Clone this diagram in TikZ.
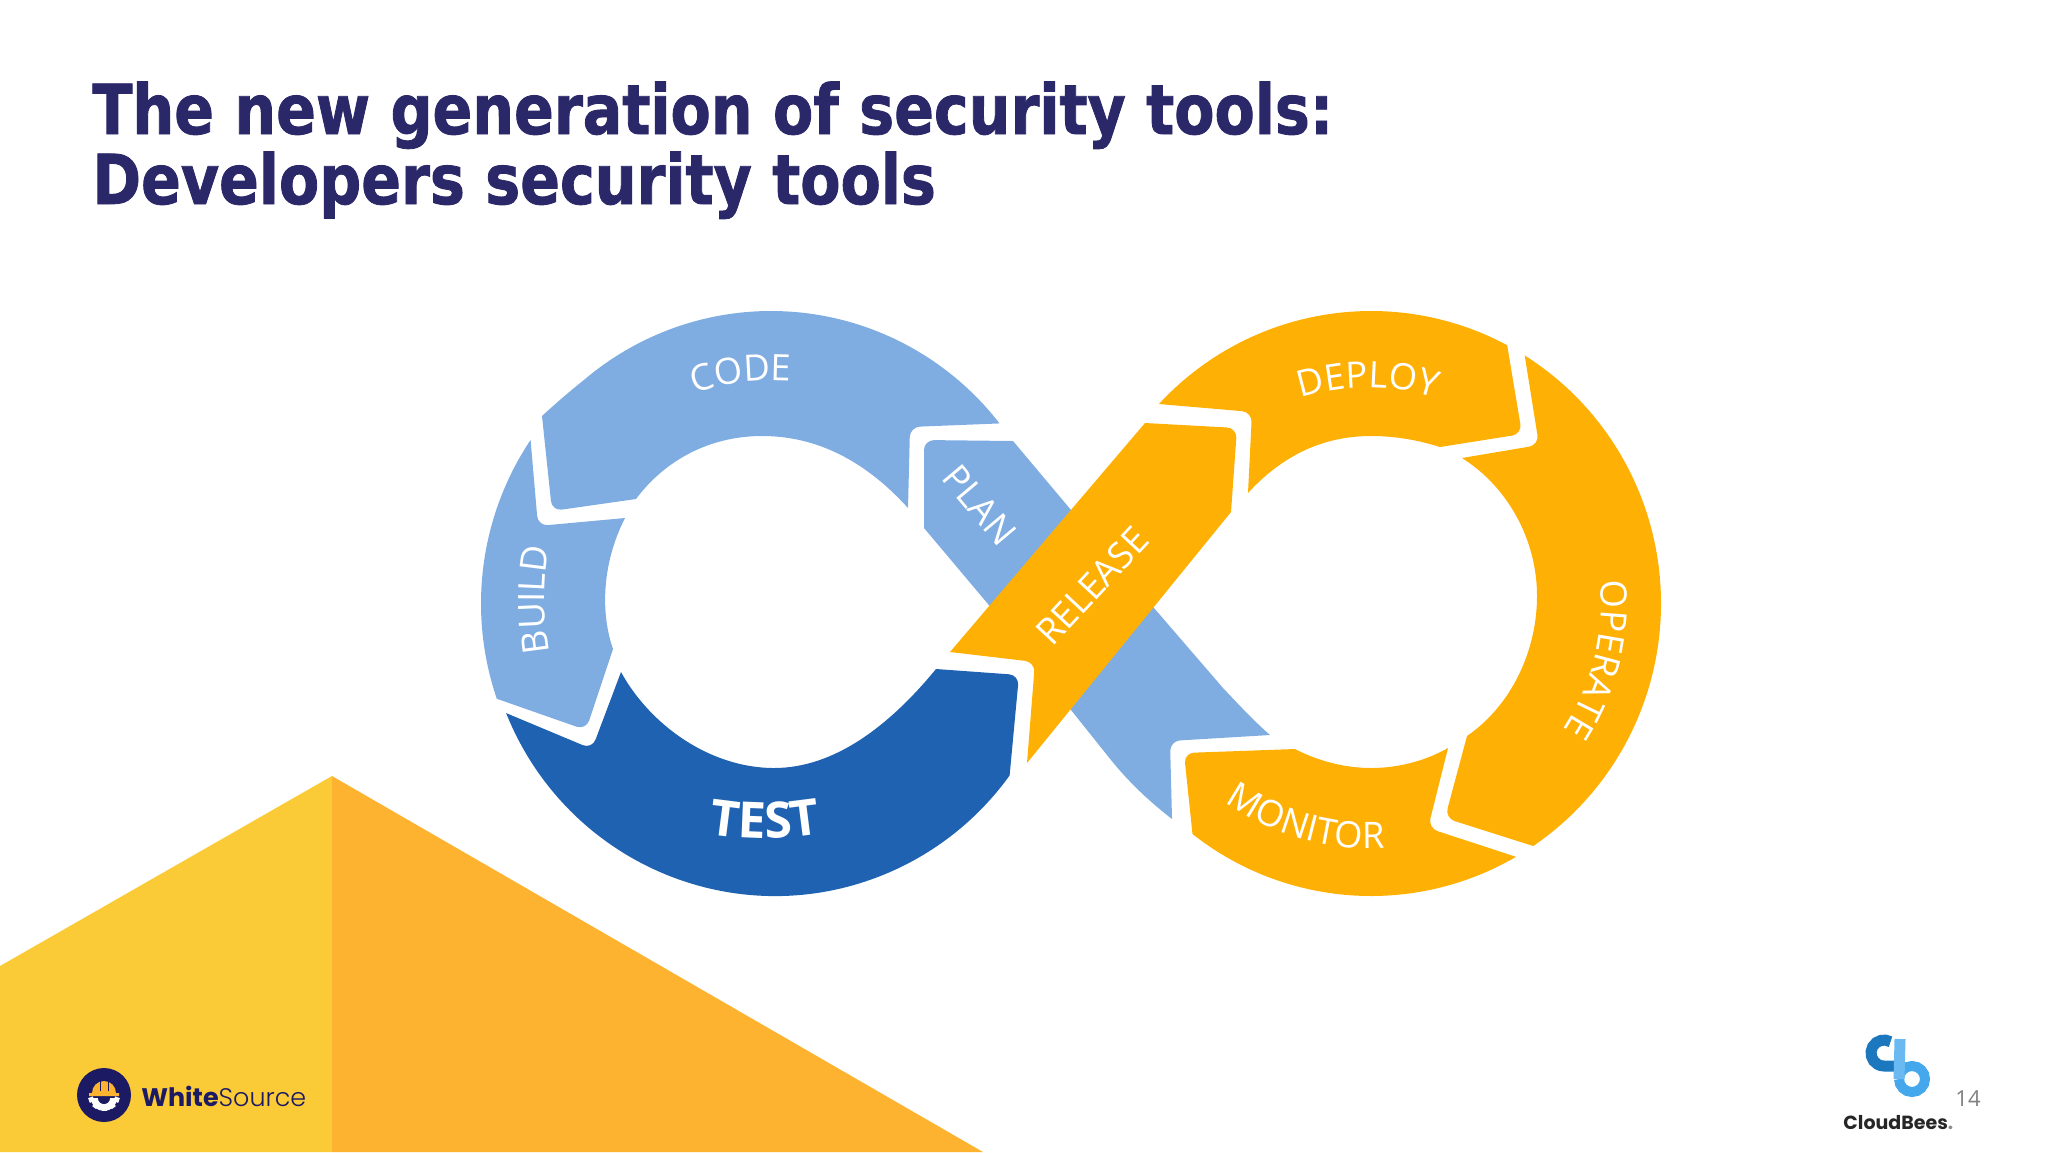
\documentclass[tikz,border=0pt]{standalone}
\usepackage{fontspec}
\usepackage{xcolor}
\usetikzlibrary{decorations.text}
\newfontfamily\titlefont[FakeBold=1.2, FakeStretch=0.945]{DejaVu Sans Condensed Bold}
\newfontfamily\stagefont{Open Sans}
\newfontfamily\logofont{Poppins}
\newfontfamily\logolight{Poppins Light}
\definecolor{titlenavy}{HTML}{2B2869}
\definecolor{paleblue}{HTML}{7FADE1}
\definecolor{deepblue}{HTML}{1F62B2}
\definecolor{amber}{HTML}{FFB005}
\definecolor{wedgeyellow}{HTML}{FBCA37}
\definecolor{wedgeorange}{HTML}{FDB330}
\definecolor{sourcenavy}{HTML}{1B1A63}
\definecolor{beesdark}{HTML}{1B78BE}
\definecolor{beeslight}{HTML}{45A8EC}
\tikzset{
  looptext/.style={decorate, decoration={text along path, text align=center,
    text color=white, text={|\stagefont\fontsize{18.2}{18.2}\selectfont|#1}}},
  stagelabel/.style={text=white, inner sep=0pt, font=\stagefont\fontsize{18.2}{18.2}\selectfont},
  titleline/.style={anchor=base west, inner sep=0pt, text=titlenavy,
    font=\titlefont\fontsize{34.5}{34.5}\selectfont},
  rim/.style={x radius=290, y radius=292.5}
}
\begin{document}
\begin{tikzpicture}[x=0.5pt, y=-0.5pt]
  \useasboundingbox (0,0) rectangle (2048,1152);
  \coordinate (leftloop) at (771,603.5);
  \coordinate (testloop) at (775,603.5);
  \coordinate (rightloop) at (1371,603.5);
  % corner wedge
  \fill[wedgeyellow] (0,966) -- (332,776) -- (332,1152) -- (0,1152) -- cycle;
  \fill[wedgeorange] (332,776) -- (983,1152) -- (332,1152) -- cycle;
  % title
  \node[titleline] (title1) at (92,134) {The new generation of security tools:};
  \node[titleline] (title2) at (92,204) {Developers security tools};
  % left loop
  \fill[paleblue] (542,416) .. controls (555,404) and (570,391) .. ([shift={(-130:290 and 292.5)}]leftloop) arc[rim, start angle=-130, end angle=-38]
    [rounded corners=5] -- (910,427) [sharp corners] -- (908,508)
    .. controls (860,455) and (810,436) .. (762,436) .. controls (710,436) and (665,460) .. (636,499)
    [rounded corners=5] -- (552,511) [sharp corners] -- cycle;
  \fill[paleblue] (leftloop) ++(-146:290 and 292.5) arc[rim, start angle=-146, end angle=-199]
    [rounded corners=5] -- (586,730) [sharp corners] -- (613,649)
    .. controls (601,615) and (601,565) .. (625,518)
    [rounded corners=5] -- (538,526) [sharp corners] -- cycle;
  \fill[deepblue] (testloop) ++(158:290 and 292.5) arc[rim, start angle=158, end angle=36]
    [rounded corners=5] -- (1019,675) [sharp corners] -- (936,669)
    .. controls (890,725) and (835,768) .. (774,768) .. controls (710,768) and (650,725) .. (621,672)
    [rounded corners=5] -- (592,749) [sharp corners] -- cycle;
  % crossing band, under the release arrow
  \fill[paleblue] (924,528) [rounded corners=5] -- (924,440) [sharp corners] -- (1013,441) -- (1071,510) -- (1154,608)
    -- (1223,688) .. controls (1240,706) and (1255,722) .. (1270,735)
    [rounded corners=5] -- (1170,741) [sharp corners] -- (1172,819)
    .. controls (1145,798) and (1125,778) .. (1107,755) -- (1071,710) -- (988,604) -- cycle;
  % right loop
  \fill[amber] (1145,423) [rounded corners=5] -- (1237,428) [sharp corners] -- (1231,512) -- (1027,763)
    [rounded corners=5] -- (1035,662) [sharp corners] -- (950,652) -- cycle;
  \fill[amber] (rightloop) ++(-137:290 and 292.5) arc[rim, start angle=-137, end angle=-62]
    [rounded corners=5] -- (1522,434) [sharp corners] -- (1440,447)
    .. controls (1418,440) and (1395,436) .. (1371,436) .. controls (1320,436) and (1280,458) .. (1248,493)
    [rounded corners=5] -- (1252,412) [sharp corners] -- cycle;
  \fill[amber] (rightloop) ++(-58:290 and 292.5) arc[rim, start angle=-58, end angle=56]
    [rounded corners=5] -- (1445,818) [sharp corners] -- (1467,736)
    .. controls (1512,705) and (1537,650) .. (1537,596) .. controls (1537,540) and (1508,487) .. (1462,458)
    [rounded corners=5] -- (1539,445) [sharp corners] -- cycle;
  \fill[amber] (rightloop) ++(60:290 and 292.5) arc[rim, start angle=60, end angle=128]
    [rounded corners=5] -- (1184,753) [sharp corners] -- (1295,749)
    .. controls (1318,761) and (1345,768) .. (1371,768) .. controls (1398,768) and (1425,761) .. (1448,748)
    [rounded corners=5] -- (1428,828) [sharp corners] -- cycle;
  % stage labels
  \path[looptext=CODE] (668,406) .. controls (717,378) and (772,378) .. (820,384);
  \path[looptext=BUILD] (566,694) .. controls (538,666) and (538,533) .. (566,505);
  \path[looptext=DEPLOY] (1260,416) .. controls (1327,378) and (1409,378) .. (1476,416);
  \path[looptext=OPERATE] (1578,502) .. controls (1627,603) and (1596,724) .. (1506,789);
  \path[looptext=MONITOR] (1162,740) .. controls (1232,838) and (1362,876) .. (1470,827);
  \path[decorate, decoration={text along path, text align=center, text color=white,
    text={|\stagefont\bfseries\fontsize{25}{25}\selectfont|TEST}}]
    (646,816) .. controls (720,846) and (810,846) .. (884,816);
  \node[stagelabel, rotate=-50] (plan) at (980,505) {PLAN};
  \node[stagelabel, rotate=47] (release) at (1092,586) {RELEASE};
  % WhiteSource mark
  \node[circle, fill=sourcenavy, minimum size=27pt, inner sep=0pt] (wsdisc) at (104,1095) {};
  \begin{scope}[shift={(104,1095)}, y=0.5pt]
    \fill[wedgeorange] (-15,-1) -- (-15,2) -- (-12,2) arc[start angle=180, end angle=0, radius=12] -- (15,2) -- (15,-1) -- cycle;
    \fill[sourcenavy] (-4.5,4) rectangle (-3.5,17);
    \fill[sourcenavy] (3.5,4) rectangle (4.5,17);
    \fill[white] (-13,-3) arc[start angle=180, end angle=360, radius=13] -- cycle;
    \foreach \toothangle in {200,232,270,308,340}
      \fill[white, rotate=\toothangle] (11,-2.5) rectangle (16,2.5);
    \fill[sourcenavy] (-6,-3) arc[start angle=180, end angle=360, radius=6] -- cycle;
  \end{scope}
  \node[anchor=base west, inner sep=0pt, text=sourcenavy, font=\fontsize{12.7}{12.7}\selectfont] (whitesource) at (141,1106)
    {{\logofont\bfseries White}{\logolight Source}};
  % CloudBees mark
  \begin{scope}[shift={(1884,1053)}, y=0.5pt, line width=5.5pt]
    \draw[beesdark] (60:13) arc[start angle=60, end angle=270, radius=13] -- ++(12,0);
  \end{scope}
  \begin{scope}[shift={(1912,1079)}, y=0.5pt, line width=5pt]
    \draw[beeslight] (0,0) +(180:13) arc[start angle=180, end angle=-180, radius=13];
  \end{scope}
  \coordinate (stemtop) at (1900,1039);
  \coordinate (stembase) at (1899,1079);
  \draw[beeslight!80!white, line width=5.5pt] (stemtop) -- (stembase);
  \node[anchor=base west, inner sep=0pt, text=black!85, font=\logofont\bfseries\fontsize{9.5}{9.5}\selectfont] (cloudbees) at (1843,1129)
    {CloudBees\textcolor{black!45}{.}};
  \node[text=black!50, inner sep=0pt, font=\stagefont\fontsize{11}{11}\selectfont] (pageno) at (1968,1099) {14};
\end{tikzpicture}
\end{document}
